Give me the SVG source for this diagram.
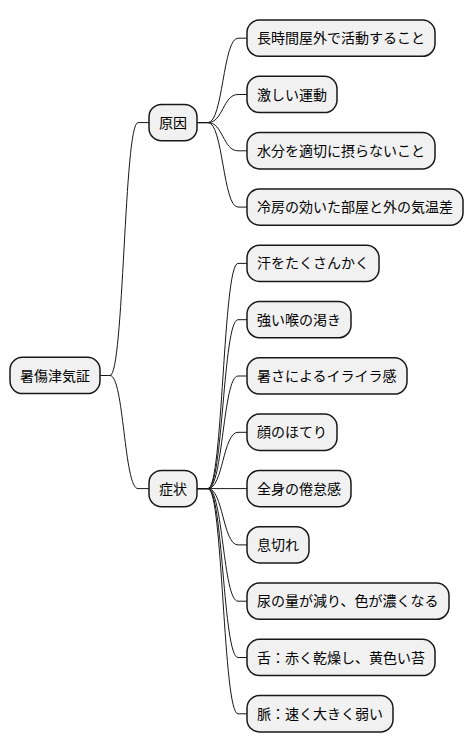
<svg xmlns="http://www.w3.org/2000/svg" width="474" height="752" viewBox="0 0 474 752">
<style>
.n rect{fill:#F1F1F1;stroke:#181818;stroke-width:1.5}
.n text{font-family:"Noto Sans CJK JP","Noto Sans",sans-serif;font-size:14px;fill:#000}
#conn path{fill:none;stroke:#181818;stroke-width:1}
</style>
<rect width="474" height="752" fill="#FFFFFF"/>
<g id="conn">
<path d="M100,375.5 L110,375.5 C124,375.5 124,122.6 138,122.6 L149,122.6"/>
<path d="M100,375.5 L110,375.5 C124,375.5 124,488.6 138,488.6 L149,488.6"/>
<path d="M197,122.6 L208,122.6 C223,122.6 223,38.2 238,38.2 L247,38.2"/>
<path d="M197,122.6 L208,122.6 C223,122.6 223,94.5 238,94.5 L247,94.5"/>
<path d="M197,122.6 L208,122.6 C223,122.6 223,150.8 238,150.8 L247,150.8"/>
<path d="M197,122.6 L208,122.6 C223,122.6 223,207.1 238,207.1 L247,207.1"/>
<path d="M197,488.6 L208,488.6 C223,488.6 223,263.4 238,263.4 L247,263.4"/>
<path d="M197,488.6 L208,488.6 C223,488.6 223,319.7 238,319.7 L247,319.7"/>
<path d="M197,488.6 L208,488.6 C223,488.6 223,376 238,376 L247,376"/>
<path d="M197,488.6 L208,488.6 C223,488.6 223,432.3 238,432.3 L247,432.3"/>
<path d="M197,488.6 L208,488.6 C223,488.6 223,488.6 238,488.6 L247,488.6"/>
<path d="M197,488.6 L208,488.6 C223,488.6 223,544.9 238,544.9 L247,544.9"/>
<path d="M197,488.6 L208,488.6 C223,488.6 223,601.2 238,601.2 L247,601.2"/>
<path d="M197,488.6 L208,488.6 C223,488.6 223,657.5 238,657.5 L247,657.5"/>
<path d="M197,488.6 L208,488.6 C223,488.6 223,713.8 238,713.8 L247,713.8"/>
</g>
<g id="root" class="n"><rect x="10" y="357.3" width="90" height="36.3" rx="12.5"/><text x="20" y="380.5">暑傷津気証</text></g>
<g id="cause" class="n"><rect x="149" y="104.4" width="48" height="36.3" rx="12.5"/><text x="159" y="127.6">原因</text></g>
<g id="symptom" class="n"><rect x="149" y="470.4" width="48" height="36.3" rx="12.5"/><text x="159" y="493.6">症状</text></g>
<g id="c1" class="n"><rect x="247" y="20" width="188" height="36.3" rx="12.5"/><text x="257" y="43.2">長時間屋外で活動すること</text></g>
<g id="c2" class="n"><rect x="247" y="76.3" width="90" height="36.3" rx="12.5"/><text x="257" y="99.5">激しい運動</text></g>
<g id="c3" class="n"><rect x="247" y="132.6" width="188" height="36.3" rx="12.5"/><text x="257" y="155.8">水分を適切に摂らないこと</text></g>
<g id="c4" class="n"><rect x="247" y="188.9" width="216" height="36.3" rx="12.5"/><text x="257" y="212.1">冷房の効いた部屋と外の気温差</text></g>
<g id="s1" class="n"><rect x="247" y="245.2" width="132" height="36.3" rx="12.5"/><text x="257" y="268.4">汗をたくさんかく</text></g>
<g id="s2" class="n"><rect x="247" y="301.5" width="104" height="36.3" rx="12.5"/><text x="257" y="324.7">強い喉の渇き</text></g>
<g id="s3" class="n"><rect x="247" y="357.8" width="160" height="36.3" rx="12.5"/><text x="257" y="381">暑さによるイライラ感</text></g>
<g id="s4" class="n"><rect x="247" y="414.1" width="90" height="36.3" rx="12.5"/><text x="257" y="437.3">顔のほてり</text></g>
<g id="s5" class="n"><rect x="247" y="470.4" width="104" height="36.3" rx="12.5"/><text x="257" y="493.6">全身の倦怠感</text></g>
<g id="s6" class="n"><rect x="247" y="526.7" width="62" height="36.3" rx="12.5"/><text x="257" y="549.9">息切れ</text></g>
<g id="s7" class="n"><rect x="247" y="583" width="202" height="36.3" rx="12.5"/><text x="257" y="606.2">尿の量が減り、色が濃くなる</text></g>
<g id="s8" class="n"><rect x="247" y="639.3" width="188" height="36.3" rx="12.5"/><text x="257" y="662.5">舌：赤く乾燥し、黄色い苔</text></g>
<g id="s9" class="n"><rect x="247" y="695.6" width="146" height="36.3" rx="12.5"/><text x="257" y="718.8">脈：速く大きく弱い</text></g>
</svg>
